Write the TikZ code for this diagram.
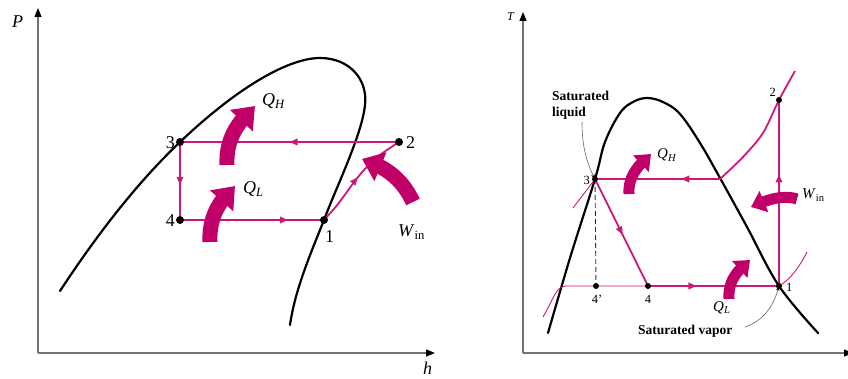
\documentclass[tikz,border=0pt]{standalone}
\usepackage{fontspec}
\setmainfont{Liberation Serif}
\usetikzlibrary{arrows.meta,decorations.markings,bending}
\definecolor{cyclemag}{RGB}{204,24,122}
\definecolor{fatmag}{RGB}{192,0,104}
\begin{document}
\begin{tikzpicture}[x=1pt,y=-1pt,
  axis/.style={draw=black!55, line width=1.2pt},
  axtip/.style={-{Triangle[length=9pt,width=7pt,color=black]}},
  dome/.style={draw=black, line width=2.2pt, line cap=round},
  cyc/.style={draw=cyclemag, line width=1.8pt},
  isobar/.style={draw=cyclemag, line width=0.9pt},
  midarrow/.style={postaction={decorate}, decoration={markings,
    mark=at position #1 with {\arrow{Triangle[length=8pt,width=6.5pt]}}}},
  ldot/.style={circle, fill=black, inner sep=0pt, minimum size=8pt},
  rdot/.style={circle, fill=black, inner sep=0pt, minimum size=6pt},
  bigfat/.style={draw=fatmag, line width=15pt, -{Triangle[length=20pt,width=30pt,flex]}},
  smallfat/.style={draw=fatmag, line width=11pt, -{Triangle[length=14pt,width=22pt,flex]}},
  biglbl/.style={font=\fontsize{18}{20}\selectfont, inner sep=0pt},
  smalllbl/.style={font=\fontsize{12.5}{14}\selectfont, inner sep=0pt},
  heatlbl/.style={font=\fontsize{15}{17}\selectfont, inner sep=0pt},
  note/.style={font=\bfseries\fontsize{13.5}{15.5}\selectfont, inner sep=0pt, align=left},
  pointer/.style={draw=black!60, line width=0.6pt, -{Stealth[length=5pt,width=3.5pt,color=black]}}]
\useasboundingbox (0,0) rectangle (848,379);

% ---- P-h diagram ----
\coordinate (lo) at (38,353);
\coordinate (ltop) at (38,8);
\coordinate (lright) at (435,353);
\draw[axis, axtip] (lo) -- (ltop);
\draw[axis, axtip] (lo) -- (lright);
\node[biglbl, anchor=base west] at (12,28) {\textit{P}};
\node[biglbl, anchor=base west] at (423,374) {\textit{h}};

\draw[dome] (60,291) .. controls (100,230) and (140,180) .. (180,142)
  .. controls (240,85) and (290,58) .. (320,58)
  .. controls (350,58) and (368,80) .. (365,105)
  .. controls (362,135) and (335,190) .. (324,220)
  .. controls (310,255) and (295,290) .. (290,325);

\coordinate (l3) at (180,142);
\coordinate (l2) at (399,142);
\coordinate (l4) at (180,220);
\coordinate (l1) at (324,220);

\draw[cyc, midarrow=0.5] (l2) -- (l3);
\draw[cyc, midarrow=0.55] (l3) -- (l4);
\draw[cyc, midarrow=0.75] (l4) -- (l1);
\draw[cyc, midarrow=0.5] plot[smooth] coordinates {(l1) (338,204) (358,177) (376,158) (l2)};

\node[ldot] at (l3) {};
\node[ldot] at (l2) {};
\node[ldot] at (l4) {};
\node[ldot] at (l1) {};
\node[biglbl, anchor=base east] at (175,149) {3};
\node[biglbl, anchor=base east] at (175,227) {4};
\node[biglbl, anchor=base west] at (406,149) {2};
\node[biglbl, anchor=base west] at (325,243) {1};

\draw[bigfat] (227,165) .. controls (226,140) and (236,124) .. (255,106);
\draw[bigfat] (210,242) .. controls (209,218) and (218,202) .. (235,186);
\draw[bigfat] (413,202) .. controls (403,181) and (389,168) .. (362,159);
\node[biglbl, anchor=base west] at (262,106) {\textit{Q}\textsubscript{\textit{H}}};
\node[biglbl, anchor=base west] at (243,194) {\textit{Q}\textsubscript{\textit{L}}};
\node[biglbl, anchor=base west] at (398,237) {\textit{W}\textsubscript{in}};

% ---- T-s diagram ----
\coordinate (ro) at (523,353);
\coordinate (rtop) at (523,12);
\coordinate (rright) at (853,353);
\draw[axis, axtip] (ro) -- (rtop);
\draw[axis, axtip] (ro) -- (rright);
\node[font=\itshape\fontsize{12}{14}\selectfont, inner sep=0pt, anchor=base west] at (507,21) {T};

\draw[dome] plot[smooth, tension=0.6] coordinates {(548,333) (570,258) (595,179) (605,142)
  (620,113) (633,102) (647,98) (663,102) (680,114) (700,143) (720,178) (747,227) (779,286) (818,333)};

\coordinate (r3) at (595,179);
\coordinate (r2) at (779,100);
\coordinate (r1) at (779,286);
\coordinate (r4) at (648,286);
\coordinate (r4p) at (596,286);
\coordinate (rsv) at (720,179);
\coordinate (rsh) at (795,71);
\coordinate (rlow) at (543,317);
\coordinate (rlowend) at (807,252);
\coordinate (rhigh) at (573,208);

\draw[isobar] (rlow) .. controls (553,300) and (556,286) .. (566,286) -- (r4);
\draw[isobar] (r1) .. controls (790,280) and (800,266) .. (rlowend);
\draw[isobar] (rhigh) .. controls (582,196) and (590,186) .. (r3);
\draw[cyc] plot[smooth] coordinates {(rsv) (743,157) (763,133) (r2) (rsh)};
\draw[cyc, midarrow=0.31] (rsv) -- (r3);
\draw[cyc, midarrow=0.52] (r3) -- (r4);
\draw[cyc, midarrow=0.37] (r4) -- (r1);
\draw[cyc, midarrow=0.6] (r1) -- (r2);
\draw[black!80, line width=0.9pt, dash pattern=on 5pt off 3pt] (r3) -- (r4p);

\node[rdot] at (r3) {};
\node[rdot] at (r2) {};
\node[rdot] at (r1) {};
\node[rdot] at (r4) {};
\node[rdot] at (r4p) {};
\node[smalllbl, anchor=base east] at (590,185) {3};
\node[smalllbl, anchor=base east] at (776,97) {2};
\node[smalllbl, anchor=base west] at (786,291) {1};
\node[smalllbl, anchor=base] at (597,303) {4'};
\node[smalllbl, anchor=base] at (648,303) {4};

\draw[smallfat] (629,194) .. controls (628,178) and (636,167) .. (651,154);
\draw[smallfat] (729,299) .. controls (728,283) and (735,272) .. (750,260);
\draw[smallfat] (797,199) .. controls (785,195) and (770,198) .. (751,207);
\node[heatlbl, anchor=base west] at (657,159) {\textit{Q}\textsubscript{\textit{H}}};
\node[heatlbl, anchor=base west] at (713,311) {\textit{Q}\textsubscript{\textit{L}}};
\node[heatlbl, anchor=base west] at (802,199) {\textit{W}\textsubscript{in}};

\node[note, anchor=north west] (satliq) at (552,91) {Saturated\\liquid};
\node[note, anchor=base west] (satvap) at (638,334) {Saturated vapor};
\coordinate (liqtail) at (582,122);
\coordinate (vaptail) at (745,327);
\draw[pointer] (liqtail) .. controls (582,145) and (586,162) .. (r3);
\draw[pointer] (vaptail) .. controls (765,320) and (774,305) .. (r1);
\end{tikzpicture}
\end{document}
